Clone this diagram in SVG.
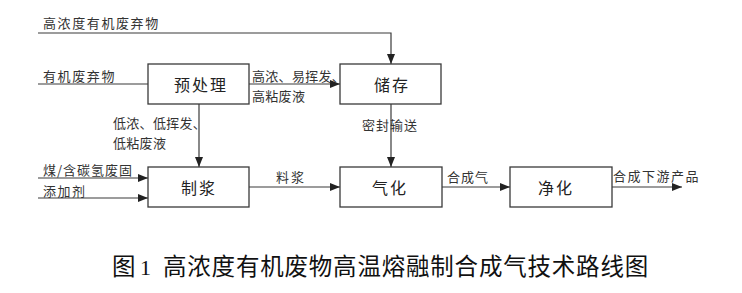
<svg xmlns="http://www.w3.org/2000/svg" width="742" height="293" viewBox="0 0 742 293">
<style>
.box{fill:#fff;stroke:#3a3a3a;stroke-width:1.3}
.ln{fill:none;stroke:#3a3a3a;stroke-width:1.2}
.nl{font-family:"Noto Sans CJK SC","Liberation Serif",serif;font-size:16px;fill:#222;text-anchor:middle;letter-spacing:2px}
.sl{font-family:"Noto Sans CJK SC","Liberation Serif",serif;font-size:13px;fill:#333;letter-spacing:1px}
.cap{font-family:"Noto Sans CJK SC",sans-serif;font-size:23.5px;fill:#111}
</style>
<defs>
<marker id="ah" viewBox="0 0 10 8" refX="10" refY="4" markerWidth="10" markerHeight="8" markerUnits="userSpaceOnUse" orient="auto">
<path d="M0,0 L10,4 L0,8 Z" fill="#222"/>
</marker>
</defs>
<rect width="742" height="293" fill="#fff"/>
<g id="connectors">
<path class="ln" d="M38,33 H391 V64" marker-end="url(#ah)"/>
<path class="ln" d="M38,84 H148"/>
<path class="ln" d="M249,84 H340" marker-end="url(#ah)"/>
<path class="ln" d="M199,104 V167" marker-end="url(#ah)"/>
<path class="ln" d="M391,104 V167" marker-end="url(#ah)"/>
<path class="ln" d="M38,178 H148" marker-end="url(#ah)"/>
<path class="ln" d="M38,198 H148" marker-end="url(#ah)"/>
<path class="ln" d="M249,187 H340" marker-end="url(#ah)"/>
<path class="ln" d="M442,187 H510" marker-end="url(#ah)"/>
<path class="ln" d="M612,187 H682" marker-end="url(#ah)"/>
<text class="sl" x="43" y="28" style="letter-spacing:1.6px">高浓度有机废弃物</text>
<text class="sl" x="43" y="81" style="letter-spacing:1.6px">有机废弃物</text>
<text class="sl" x="252" y="81" style="letter-spacing:0.3px">高浓、易挥发、</text>
<text class="sl" x="252" y="100.5" style="letter-spacing:0.3px">高粘废液</text>
<text class="sl" x="113" y="128" style="letter-spacing:0.3px">低浓、低挥发、</text>
<text class="sl" x="113" y="147.5" style="letter-spacing:0.3px">低粘废液</text>
<text class="sl" x="362" y="130">密封输送</text>
<text class="sl" x="43" y="175">煤/含碳氢废固</text>
<text class="sl" x="43" y="196" style="letter-spacing:1.5px">添加剂</text>
<text class="sl" x="276" y="182" style="letter-spacing:2px">料浆</text>
<text class="sl" x="447" y="182">合成气</text>
<text class="sl" x="613" y="181" style="letter-spacing:1.5px">合成下游产品</text>
</g>
<g id="pretreat"><rect class="box" x="148" y="64" width="101" height="40"/><text class="nl" x="201" y="91">预处理</text></g>
<g id="storage"><rect class="box" x="340" y="64" width="101" height="40"/><text class="nl" x="392" y="91">储存</text></g>
<g id="slurry"><rect class="box" x="148" y="167" width="101" height="40"/><text class="nl" x="199" y="194">制浆</text></g>
<g id="gasify"><rect class="box" x="340" y="167" width="102" height="40"/><text class="nl" x="390" y="194">气化</text></g>
<g id="purify"><rect class="box" x="510" y="167" width="102" height="40"/><text class="nl" x="556" y="194">净化</text></g>
<g id="caption">
<text class="cap" x="112" y="275">图</text>
<text x="140" y="275" style="font-family:'Liberation Serif',serif;font-size:22px;fill:#111">1</text>
<text class="cap" x="163" y="275" style="letter-spacing:0.8px">高浓度有机废物高温熔融制合成气技术路线图</text>
</g>
</svg>
